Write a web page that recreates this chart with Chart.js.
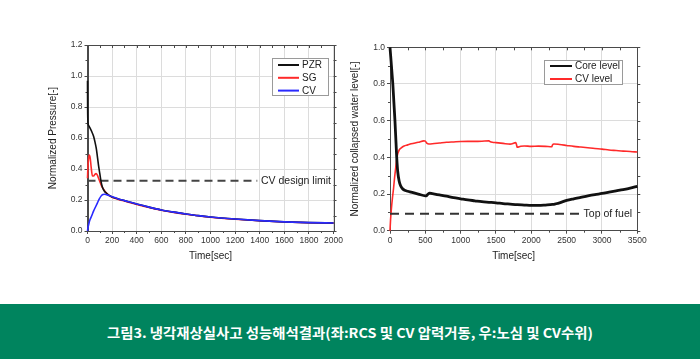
<!DOCTYPE html>
<html>
<head>
<meta charset="utf-8">
<script src="https://cdn.jsdelivr.net/npm/chart.js@4.4.1/dist/chart.umd.min.js"></script>
<style>
  html, body { margin: 0; padding: 0; background: #ffffff; }
  body { width: 700px; height: 359px; position: relative; overflow: hidden; }
  #c1 { position: absolute; left: 0; top: 0; }
  #c2 { position: absolute; left: 345px; top: 0; }
  #cap { position: absolute; left: 0; top: 304px; width: 700px; height: 55px; background: #00845e;
         display: flex; align-items: center; justify-content: center; }
  #capText { display: inline-block; color: #ffffff; font-family: "Noto Sans CJK KR", sans-serif;
             font-weight: 700; font-size: 13.5px; white-space: nowrap; transform-origin: center center; }
</style>
</head>
<body>
<canvas id="c1" width="345" height="300" style="width:345px;height:300px"></canvas>
<canvas id="c2" width="355" height="300" style="width:355px;height:300px"></canvas>
<div id="cap"><span id="capText">그림3. 냉각재상실사고 성능해석결과(좌:RCS 및 CV 압력거동, 우:노심 및 CV수위)</span></div>
<script>
// ---------------- DATA (left chart: pressure) ----------------
const pzrTime  = [0, 1, 4, 10, 20, 35, 50, 62, 72, 82, 92, 100, 110, 120, 135, 155, 180, 200, 250, 300, 400, 500, 600, 700, 800, 900, 1000, 1200, 1400, 1600, 1800, 2000];
const pzrValue = [0.97, 0.80, 0.70, 0.68, 0.665, 0.64, 0.61, 0.57, 0.53, 0.47, 0.41, 0.37, 0.32, 0.285, 0.26, 0.243, 0.228, 0.22, 0.207, 0.196, 0.174, 0.154, 0.136, 0.122, 0.11, 0.099, 0.09, 0.077, 0.067, 0.059, 0.054, 0.052];
const sgTime   = [0, 4, 9, 15, 22, 30, 40, 50, 60, 70, 80, 90, 100, 115, 130, 150, 175, 200, 250, 300, 400, 500, 600, 700, 800, 900, 1000, 1200, 1400, 1600, 1800, 2000];
const sgValue  = [0.34, 0.42, 0.47, 0.49, 0.47, 0.41, 0.355, 0.355, 0.365, 0.37, 0.36, 0.34, 0.32, 0.29, 0.27, 0.248, 0.23, 0.218, 0.204, 0.193, 0.171, 0.151, 0.134, 0.12, 0.108, 0.098, 0.089, 0.076, 0.066, 0.058, 0.053, 0.051];
const cvpTime  = [0, 5, 12, 20, 35, 50, 65, 80, 95, 110, 125, 140, 160, 180, 200, 250, 300, 400, 500, 600, 700, 800, 900, 1000, 1200, 1400, 1600, 1800, 2000];
const cvpValue = [0, 0.025, 0.05, 0.072, 0.1, 0.13, 0.155, 0.18, 0.205, 0.225, 0.235, 0.237, 0.233, 0.227, 0.221, 0.207, 0.196, 0.174, 0.154, 0.136, 0.122, 0.11, 0.099, 0.09, 0.077, 0.067, 0.059, 0.054, 0.052];
const cvDesignLimit = 0.325;
const cvLimitSpan = [0, 1380];
const pressTicksX = [0, 200, 400, 600, 800, 1000, 1200, 1400, 1600, 1800, 2000];
const pressTicksY = [0.0, 0.2, 0.4, 0.6, 0.8, 1.0, 1.2];

// ---------------- DATA (right chart: water level) ----------------
const coreTime  = [0, 10, 20, 30, 40, 55, 70, 85, 95, 110, 130, 150, 175, 200, 250, 300, 400, 500, 520, 540, 560, 600, 700, 800, 900, 1000, 1100, 1200, 1300, 1400, 1500, 1600, 1700, 1800, 1900, 2000, 2100, 2200, 2300, 2350, 2400, 2500, 2600, 2700, 2800, 2900, 3000, 3100, 3200, 3300, 3400, 3500];
const coreValue = [1.0, 0.95, 0.9, 0.85, 0.8, 0.7, 0.6, 0.48, 0.4, 0.32, 0.27, 0.245, 0.23, 0.222, 0.215, 0.21, 0.2, 0.19, 0.192, 0.2, 0.205, 0.202, 0.195, 0.188, 0.18, 0.174, 0.168, 0.163, 0.158, 0.155, 0.152, 0.148, 0.145, 0.142, 0.14, 0.138, 0.138, 0.14, 0.143, 0.147, 0.152, 0.165, 0.174, 0.182, 0.19, 0.197, 0.203, 0.21, 0.217, 0.224, 0.232, 0.242];
const cvlTime   = [0, 8, 20, 35, 50, 65, 80, 95, 110, 130, 160, 200, 250, 300, 400, 480, 500, 520, 550, 600, 700, 800, 900, 1000, 1100, 1200, 1300, 1400, 1420, 1450, 1500, 1600, 1700, 1780, 1790, 1800, 1850, 1900, 2000, 2100, 2200, 2290, 2300, 2320, 2400, 2500, 2600, 2700, 2800, 2900, 3000, 3100, 3200, 3300, 3400, 3500];
const cvlValue  = [0, 0.06, 0.12, 0.18, 0.23, 0.29, 0.34, 0.39, 0.42, 0.44, 0.452, 0.462, 0.468, 0.474, 0.482, 0.49, 0.488, 0.478, 0.473, 0.474, 0.478, 0.482, 0.484, 0.486, 0.487, 0.487, 0.488, 0.49, 0.485, 0.482, 0.48, 0.476, 0.472, 0.48, 0.47, 0.455, 0.46, 0.462, 0.46, 0.461, 0.46, 0.458, 0.468, 0.473, 0.47, 0.465, 0.46, 0.456, 0.452, 0.448, 0.445, 0.44, 0.437, 0.434, 0.432, 0.429];
const topOfFuel = 0.093;
const topOfFuelSpan = [0, 2690];
const levelTicksX = [0, 500, 1000, 1500, 2000, 2500, 3000, 3500];
const levelTicksY = [0.0, 0.2, 0.4, 0.6, 0.8, 1.0];

// ---------------- helpers ----------------
const FONT = '"Liberation Sans", Arial, sans-serif';
const zip = (xs, ys) => xs.map((x, i) => ({ x: x, y: ys[i] }));
const flat = (span, v) => span.map(x => ({ x: x, y: v }));

const framePlugin = {
  id: 'frameAndExtras',
  beforeDatasetsDraw(chart, args, opts) {
    const { ctx, chartArea: a } = chart;
    const sx = chart.scales.x, sy = chart.scales.y;
    ctx.save();
    ctx.strokeStyle = '#4a4a4a';
    ctx.lineWidth = 1;
    ctx.strokeRect(Math.round(a.left) + 0.5, Math.round(a.top) + 0.5, Math.round(a.right - a.left), Math.round(a.bottom - a.top));
    ctx.beginPath();
    const xt = opts.xTicks, yt = opts.yTicks;
    for (let i = 0; i < xt.length; i++) {
      const vals = [xt[i]];
      if (i < xt.length - 1) vals.push((xt[i] + xt[i + 1]) / 2);
      vals.forEach((v, k) => {
        const px = Math.round(sx.getPixelForValue(v)) + 0.5;
        ctx.moveTo(px, a.top); ctx.lineTo(px, a.top + 3);
        if (k === 1) { ctx.moveTo(px, a.bottom); ctx.lineTo(px, a.bottom + 2); }
      });
    }
    for (let i = 0; i < yt.length; i++) {
      const vals = [yt[i]];
      if (i < yt.length - 1) vals.push((yt[i] + yt[i + 1]) / 2);
      vals.forEach((v, k) => {
        const py = Math.round(sy.getPixelForValue(v)) + 0.5;
        ctx.moveTo(a.right, py); ctx.lineTo(a.right + 3, py);
        if (k === 1) { ctx.moveTo(a.left, py); ctx.lineTo(a.left - 2, py); }
      });
    }
    ctx.stroke();
    ctx.restore();
  },
  afterDatasetsDraw(chart, args, opts) {
    const { ctx } = chart;
    const sx = chart.scales.x, sy = chart.scales.y;
    ctx.save();
    ctx.fillStyle = '#222';
    ctx.font = '10.5px ' + FONT;
    ctx.textBaseline = 'middle';
    ctx.textAlign = 'left';
    ctx.fillText(opts.noteText, sx.getPixelForValue(opts.noteX), sy.getPixelForValue(opts.noteY));
    const L = opts.legend;
    ctx.fillStyle = '#ffffff';
    ctx.fillRect(L.x, L.y, L.w, L.h);
    ctx.strokeStyle = '#9a9a9a';
    ctx.lineWidth = 1;
    ctx.strokeRect(L.x + 0.5, L.y + 0.5, L.w, L.h);
    ctx.font = '10px ' + FONT;
    let row = 0;
    chart.data.datasets.forEach(ds => {
      if (!ds.inLegend) return;
      const y = L.y + L.first + row * L.step;
      ctx.strokeStyle = ds.borderColor;
      ctx.lineWidth = 2;
      ctx.beginPath();
      ctx.moveTo(L.x + L.lineFrom, y); ctx.lineTo(L.x + L.lineTo, y);
      ctx.stroke();
      ctx.fillStyle = '#222';
      ctx.fillText(ds.label, L.x + L.textX, y + 0.5);
      row++;
    });
    ctx.restore();
  }
};

function makeScales(xMin, xMax, xStep, yMin, yMax, yStep, yTitle, yAxisW, yTitlePad, xAxisH) {
  return {
    x: {
      type: 'linear', min: xMin, max: xMax,
      afterFit: s => { s.height = xAxisH; },
      ticks: { stepSize: xStep, color: '#333', font: { family: FONT, size: 8.5 }, padding: 2, maxRotation: 0,
               callback: v => String(v) },
      grid: { color: '#dcdcdc', lineWidth: 1, tickLength: 3, tickColor: '#4a4a4a', drawTicks: true },
      border: { display: true, color: '#4a4a4a' },
      title: { display: true, text: 'Time[sec]', color: '#222', font: { family: FONT, size: 10, lineHeight: 1.2 },
               padding: { top: 0, bottom: 38 } }
    },
    y: {
      type: 'linear', min: yMin, max: yMax,
      afterFit: s => { s.width = yAxisW; },
      ticks: { stepSize: yStep, color: '#333', font: { family: FONT, size: 8.5 }, padding: 2,
               callback: v => Number(v).toFixed(1) },
      grid: { color: '#dcdcdc', lineWidth: 1, tickLength: 3, tickColor: '#4a4a4a', drawTicks: true },
      border: { display: true, color: '#4a4a4a' },
      title: { display: true, text: yTitle, color: '#222', font: { family: FONT, size: 10, lineHeight: 1.2 },
               padding: { top: yTitlePad, bottom: 0 } }
    }
  };
}

const lineBase = { pointRadius: 0, fill: false, cubicInterpolationMode: 'monotone', borderJoinStyle: 'round', clip: 2 };

// ---------------- left chart ----------------
new Chart(document.getElementById('c1'), {
  type: 'line',
  data: {
    datasets: [
      Object.assign({}, lineBase, { label: 'CV design limit', data: flat(cvLimitSpan, cvDesignLimit), borderColor: '#444', borderWidth: 2, borderDash: [8, 5], inLegend: false, order: 4, cubicInterpolationMode: 'default', tension: 0 }),
      Object.assign({}, lineBase, { label: 'PZR', data: zip(pzrTime, pzrValue), borderColor: '#111111', borderWidth: 1.6, inLegend: true, order: 2 }),
      Object.assign({}, lineBase, { label: 'SG', data: zip(sgTime, sgValue), borderColor: '#ff2a2a', borderWidth: 1.6, inLegend: true, order: 3 }),
      Object.assign({}, lineBase, { label: 'CV', data: zip(cvpTime, cvpValue), borderColor: '#2a2aff', borderWidth: 1.6, inLegend: true, order: 1 })
    ]
  },
  options: {
    responsive: false, animation: false, devicePixelRatio: 1,
    layout: { padding: { top: 45, right: 10.3, bottom: 0, left: 0 } },
    scales: makeScales(0, 2000, 200, 0, 1.2, 0.2, 'Normalized Pressure[-]', 87.5, 47.3, 69),
    plugins: {
      legend: { display: false }, tooltip: { enabled: false },
      frameAndExtras: {
        xTicks: pressTicksX, yTicks: pressTicksY,
        noteText: 'CV design limit', noteX: 1410, noteY: cvDesignLimit,
        legend: { x: 272, y: 58, w: 56, h: 37, first: 7, step: 12.8, lineFrom: 6, lineTo: 27, textX: 30 }
      }
    }
  },
  plugins: [framePlugin]
});

// ---------------- right chart ----------------
new Chart(document.getElementById('c2'), {
  type: 'line',
  data: {
    datasets: [
      Object.assign({}, lineBase, { label: 'Top of fuel', data: flat(topOfFuelSpan, topOfFuel), borderColor: '#333', borderWidth: 2, borderDash: [9, 6], inLegend: false, cubicInterpolationMode: 'default', tension: 0 }),
      Object.assign({}, lineBase, { label: 'Core level', data: zip(coreTime, coreValue), borderColor: '#111111', borderWidth: 2.8, inLegend: true }),
      Object.assign({}, lineBase, { label: 'CV level', data: zip(cvlTime, cvlValue), borderColor: '#ff2a2a', borderWidth: 1.6, inLegend: true })
    ]
  },
  options: {
    responsive: false, animation: false, devicePixelRatio: 1,
    layout: { padding: { top: 47.3, right: 62.7, bottom: 0, left: 0 } },
    scales: makeScales(0, 3500, 500, 0, 1.0, 0.2, 'Normalized collapsed water level[-]', 45, 4, 69.3),
    plugins: {
      legend: { display: false }, tooltip: { enabled: false },
      frameAndExtras: {
        xTicks: levelTicksX, yTicks: levelTicksY,
        noteText: 'Top of fuel', noteX: 2740, noteY: topOfFuel,
        legend: { x: 199, y: 60, w: 78, h: 24, first: 6, step: 13, lineFrom: 6, lineTo: 28, textX: 31 }
      }
    }
  },
  plugins: [framePlugin]
});

// caption: fit to measured width in reference
(function () {
  const el = document.getElementById('capText');
  const w = el.getBoundingClientRect().width;
  const target = 486;
  el.style.transform = 'scaleX(' + (target / w).toFixed(4) + ')';
})();
</script>
</body>
</html>
